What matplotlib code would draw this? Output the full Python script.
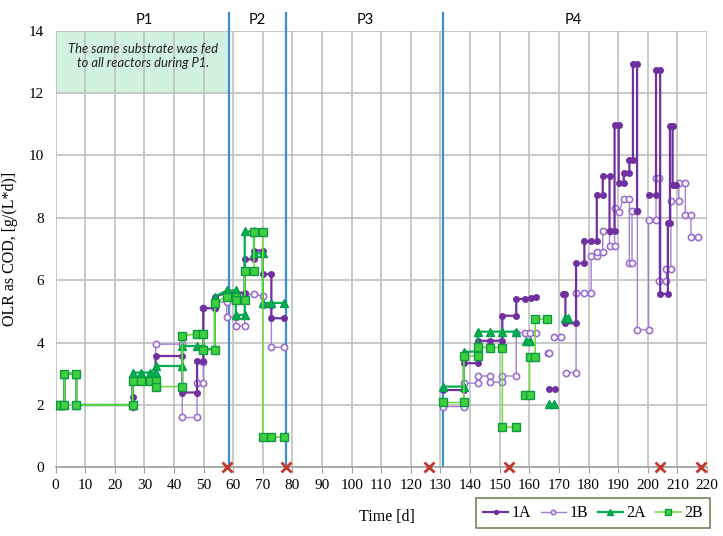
import matplotlib
matplotlib.use("Agg")
import matplotlib.pyplot as plt
from matplotlib.patches import Rectangle
import numpy as np

GAP = (np.nan, np.nan)

# (day, OLR) points, NaN pairs break the line
r1a = [(0.5, 2), (1.5, 2), (3, 2), (3, 3), (7, 3), (7, 2), (26, 2), (26, 2.25), (26, 2.85),
       (28.8, 2.85), (31.9, 2.85), (33.8, 2.85), (33.8, 3.57), (42.8, 3.57), (42.8, 2.4),
       (47.8, 2.4), (47.8, 3.41), (49.9, 3.41), (49.9, 5.1), (53.8, 5.1), (53.8, 5.47),
       (57.8, 5.6), (60.9, 5.6), (63.9, 5.6), (63.9, 6.67), (67, 6.67), (67, 6.95), (70, 6.95),
       (70, 6.2), (72.9, 6.2), (72.9, 4.78), (77, 4.78), GAP,
       (130.8, 2.48), (137.9, 2.48), (137.9, 3.34), (142.6, 3.34), (142.6, 4.06), (146.6, 4.06),
       (150.9, 4.06), (150.9, 4.86), (155.6, 4.86), (155.6, 5.4), (158.4, 5.4), (160.6, 5.43),
       (162.1, 5.45), GAP, (166.8, 2.5), (168.7, 2.5), GAP,
       (171.3, 5.56), (172.2, 5.56), (172.2, 4.62), (175.8, 4.62), (175.8, 6.54), (178.6, 6.54),
       (178.6, 7.24), (180.9, 7.24), (182.8, 7.24), (182.8, 8.73), (184.8, 8.73), (184.8, 9.34),
       (187.1, 9.34), (187.1, 7.56), (188.8, 7.56), (188.8, 10.98), (190.2, 10.98), (190.2, 9.11),
       (191.9, 9.11), (191.9, 9.45), (193.8, 9.45), (193.8, 9.86), (195.0, 9.86), (195.0, 12.93),
       (196.4, 12.93), (196.4, 8.23), GAP,
       (200.3, 8.73), (202.8, 8.73), (202.8, 12.72), (204.2, 12.72), (204.2, 5.56), (206.8, 5.56),
       (206.8, 7.83), (207.5, 7.83), (207.5, 10.95), (208.4, 10.95), (208.4, 9.05), (209.4, 9.05)]

r1b = [(0.5, 2), (1.5, 2), (3, 2), (3, 3), (7, 3), (7, 2), (26, 2), (26, 1.92), (26, 2.8),
       (28.8, 2.8), (31.9, 2.8), (33.8, 2.8), (33.8, 3.95), (42.8, 3.95), (42.8, 1.6),
       (47.8, 1.6), (47.8, 2.7), (49.9, 2.7), (49.9, 3.39), (49.9, 5.1), (53.8, 5.1), (53.8, 5.3),
       (57.8, 5.3), (57.8, 4.83), (60.9, 4.83), (60.9, 4.53), (63.9, 4.53), (63.9, 5.55),
       (67, 5.55), (70, 5.5), (70, 5.2), (72.9, 5.2), (72.9, 3.85), (77, 3.85), GAP,
       (130.8, 1.95), (137.9, 1.95), (137.9, 2.7), (142.6, 2.7), (142.6, 2.93), (146.6, 2.93),
       (146.6, 2.73), (150.9, 2.73), (150.9, 2.93), (155.6, 2.93), (155.6, 4.32), (158.4, 4.32),
       (160.1, 4.32), (162.1, 4.32), GAP, (166.3, 3.68), (166.8, 3.68), GAP,
       (168.5, 4.19), (170.8, 4.19), GAP,
       (172.5, 3.04), (175.8, 3.04), (175.8, 5.58), (178.6, 5.58), (180.9, 5.58), (180.9, 6.76),
       (182.8, 6.76), (182.8, 6.89), (184.8, 6.89), (184.8, 7.56), (187.1, 7.56), (187.1, 7.08),
       (188.8, 7.08), (188.8, 8.3), (190.2, 8.2), (191.9, 8.6), (193.8, 8.6), (193.8, 6.54),
       (194.7, 6.54), (194.7, 8.23), (196.5, 8.23), (196.5, 4.41), (200.3, 4.41), (200.3, 7.93),
       (202.8, 7.93), (202.8, 9.29), (203.9, 9.29), (203.9, 5.96), (206.3, 5.96), (206.3, 6.35),
       (207.8, 6.35), (207.8, 8.54), (210.5, 8.54), (210.5, 9.13), (212.7, 9.13), (212.7, 8.09),
       (214.6, 8.09), (214.6, 7.38), (216.9, 7.38)]

r2a = [(0.5, 2), (1.5, 2), (3, 2), (3, 3), (7, 3), (7, 2), (26, 2), (26, 3.04), (28.8, 3.04),
       (31.9, 3.04), (33.8, 3.04), (33.8, 3.25), (42.8, 3.25), (42.8, 3.89), (47.8, 3.89),
       (49.9, 3.89), (49.9, 3.79), (53.8, 3.79), (53.8, 5.47), (57.8, 5.67), (60.9, 5.67),
       (60.9, 4.89), (63.9, 4.89), (63.9, 7.56), (67, 7.56), (67, 6.86), (70, 6.86), (70, 5.27),
       (72.9, 5.27), (77, 5.27), GAP,
       (130.8, 2.59), (137.9, 2.59), (137.9, 3.71), (142.6, 3.71), (142.6, 4.35), (146.6, 4.35),
       (150.9, 4.35), (155.6, 4.35), GAP, (159.0, 4.06), (160.1, 4.06), GAP,
       (166.8, 2.03), (168.5, 2.03), GAP, (172.2, 4.78), (173.0, 4.78)]

r2b = [(0.5, 2), (1.5, 2), (3, 2), (3, 3), (7, 3), (7, 2), (26, 2), (26, 2.77), (28.8, 2.77),
       (31.9, 2.77), (33.8, 2.77), (33.8, 2.59), (42.8, 2.59), (42.8, 4.21), (47.8, 4.28),
       (49.9, 4.28), (49.9, 3.75), (53.8, 3.75), (53.8, 5.28), (57.8, 5.47), (60.9, 5.47),
       (60.9, 5.37), (63.9, 5.37), (63.9, 6.28), (67, 6.28), (67, 7.55), (70, 7.55), (70, 0.97),
       (72.9, 0.97), (77, 0.97), GAP,
       (130.8, 2.08), (137.9, 2.08), (137.9, 3.57), (142.6, 3.57), (142.6, 3.87), (146.6, 3.84),
       (150.9, 3.84), (150.9, 1.29), (155.6, 1.29), GAP, (158.4, 2.32), (160.1, 2.32),
       (160.1, 3.55), (162.0, 3.55), (162.0, 4.75), (165.9, 4.75)]

phase_ends = [58.5, 78, 131]
phase_names = ['P1', 'P2', 'P3', 'P4']
phase_centres = [30, 68, 104.5, 175]
failure_days = [58, 78, 126, 153, 204, 218]

serif = 'Liberation Serif'
sans = 'Lato'

fig = plt.figure(figsize=(7.23, 5.36), dpi=100)
ax = fig.add_axes([0.0768, 0.128, 0.901, 0.815])

ax.add_patch(Rectangle((0, 12), 58.5, 2, facecolor='#d2f2e0', edgecolor='none', zorder=0.1))
ax.text(29.5, 13.2, 'The same substrate was fed\nto all reactors during P1.',
        ha='center', va='center', style='italic', fontsize=9.4, family=sans, color='#222222')

styles = [
    (r1b, dict(color='#a57fd6', lw=1.0, marker='o', ms=4.5, mfc='white', mec='#9b6fd0', mew=1.2, label='1B')),
    (r1a, dict(color='#7030a0', lw=1.6, marker='o', ms=4, mfc='#7030a0', mec='#7030a0', label='1A')),
    (r2a, dict(color='#00b050', lw=1.6, marker='^', ms=5.5, mfc='#00b050', mec='#00a048', label='2A')),
    (r2b, dict(color='#6fdc3a', lw=1.1, marker='s', ms=5.5, mfc='#3fcf3f', mec='#109a40', mew=1.0, label='2B')),
]
handles = {}
for pts, kw in styles:
    arr = np.array(pts, dtype=float)
    line, = ax.plot(arr[:, 0], arr[:, 1], zorder=3, **kw)
    handles[kw['label']] = line

for x in phase_ends:
    ax.plot([x, x], [0, 14.55], color='#3a8fd6', lw=1.6, zorder=2.5, clip_on=False)
for x, name in zip(phase_centres, phase_names):
    ax.text(x, 14.35, name, ha='center', va='center', fontsize=10.5, family=sans)

ax.plot(failure_days, np.zeros(len(failure_days)), linestyle='none', marker='x', ms=7,
        mew=2, color='#c0392b', zorder=4, clip_on=False)

ax.set_xlim(0, 220)
ax.set_ylim(0, 14)
ax.set_xticks(np.arange(0, 221, 10))
ax.set_yticks(np.arange(0, 15, 2))
ax.grid(True, color='#c0c0c0', lw=1.2)
ax.set_axisbelow(True)
for s in ['top', 'right', 'left']:
    ax.spines[s].set_visible(False)
ax.spines['bottom'].set_color('#a0a0a0')
ax.spines['bottom'].set_linewidth(1.2)
ax.tick_params(axis='x', direction='out', length=4, color='#a0a0a0', labelsize=11, pad=4)
ax.tick_params(axis='y', length=0, labelsize=11, pad=8)
for lab in ax.get_xticklabels() + ax.get_yticklabels():
    lab.set_family(serif)

ax.set_ylabel('OLR as COD, [g/(L*d)]', family=serif, fontsize=11.5, labelpad=8)
fig.text(0.535, 0.035, 'Time [d]', family=serif, fontsize=11.5, ha='center', va='center')

leg = fig.legend([handles[k] for k in ['1A', '1B', '2A', '2B']], ['1A', '1B', '2A', '2B'],
                 loc='lower right', bbox_to_anchor=(0.982, 0.014), borderaxespad=0,
                 ncol=4, frameon=True, fancybox=False, edgecolor='#4f6a2a',
                 prop={'family': serif, 'size': 11.5}, handlelength=1.6, handletextpad=0.2,
                 columnspacing=0.6, borderpad=0.45, markerscale=0.7)
leg.get_frame().set_linewidth(1.2)

fig.savefig('out.png', dpi=100)
